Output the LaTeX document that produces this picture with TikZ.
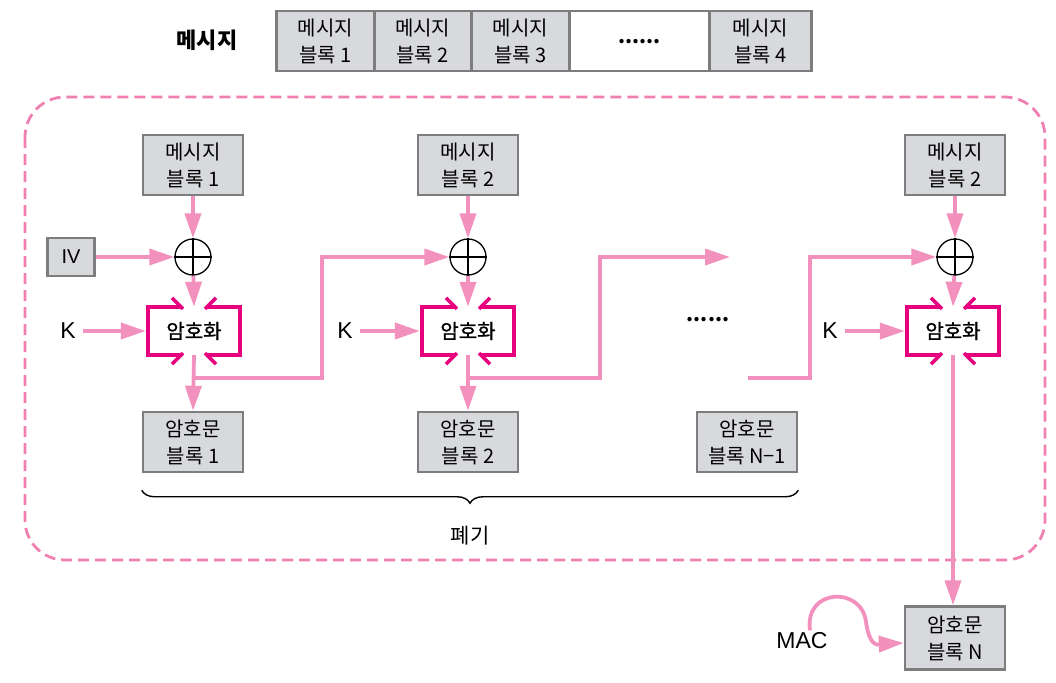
\documentclass[tikz,border=0pt]{standalone}
\usepackage{fontspec}
\setmainfont{Noto Sans CJK KR}
\newfontfamily\latinf{Liberation Sans}
\newfontfamily\krmed[FakeBold=1.3]{Noto Sans CJK KR}
\usetikzlibrary{arrows.meta,decorations.pathreplacing,calc}
\definecolor{pinkc}{RGB}{243,145,190}
\definecolor{dashc}{RGB}{240,128,178}
\definecolor{magc}{RGB}{230,0,126}
\definecolor{grayf}{RGB}{216,217,221}
\definecolor{grayd}{RGB}{125,125,125}
\tikzset{
 gbox/.style={draw=grayd, line width=2.5pt, fill=grayf, minimum width=100pt, minimum height=60pt, align=center, inner sep=0pt, font=\fontsize{20}{27}\selectfont},
 cell/.style={gbox, anchor=north west},
 pk/.style={draw=pinkc, line width=3.8pt},
 arr/.style={pk, -{Triangle[length=25pt,width=16pt]}},
 mg/.style={draw=magc, line width=3.5pt},
 xorc/.style={circle, draw=black, line width=1.3pt, minimum size=36pt, inner sep=0pt},
 lbl/.style={font=\latinf\fontsize{23}{26}\selectfont},
 enc/.style={minimum width=92pt, minimum height=48pt, inner sep=0pt, font=\krmed\fontsize{20}{22}\selectfont},
}
\newcommand{\encframe}[1]{%
 \draw[mg] ([xshift=-12pt]#1.north) -- (#1.north west) -- (#1.south west) -- ([xshift=-12pt]#1.south);
 \draw[mg] ([xshift=12pt]#1.north) -- (#1.north east) -- (#1.south east) -- ([xshift=12pt]#1.south);
 \draw[mg] ([shift={(-22pt,9pt)}]#1.north) -- ([shift={(-11pt,-2pt)}]#1.north);
 \draw[mg] ([shift={(22pt,9pt)}]#1.north) -- ([shift={(11pt,-2pt)}]#1.north);
 \draw[mg] ([shift={(-22pt,-9pt)}]#1.south) -- ([shift={(-11pt,2pt)}]#1.south);
 \draw[mg] ([shift={(22pt,-9pt)}]#1.south) -- ([shift={(11pt,2pt)}]#1.south);
}
\newcommand{\xcross}[1]{\draw[line width=1.3pt] (#1.north) -- (#1.south) (#1.west) -- (#1.east);}
\begin{document}
\begin{tikzpicture}[x=1pt,y=-1pt]
\useasboundingbox (0,0) rectangle (1056,682);
% title and top strip
\node[font=\fontsize{22}{26}\selectfont\bfseries] (title) at (207,40) {메시지};
\node[cell, minimum width=98pt] (t1) at (275,10) {메시지\\블록 1};
\node[cell, minimum width=97pt] (t2) at (373,10) {메시지\\블록 2};
\node[cell, minimum width=98pt] (t3) at (470,10) {메시지\\블록 3};
\node[cell, minimum width=140pt, fill=white] (t4) at (568,10) {\bfseries ......};
\node[cell, minimum width=102pt] (t5) at (708,10) {메시지\\블록 4};
% dashed frame
\draw[dashc, line width=2.8pt, dash pattern=on 11pt off 6pt, rounded corners=40pt] (25,97) rectangle (1045,560);
% column 1
\node[gbox] (m1) at (193,165) {메시지\\블록 1};
\node[xorc] (x1) at (193,257) {};
\xcross{x1}
\node[gbox, minimum width=47pt, minimum height=38pt, font=\latinf\fontsize{20}{24}\selectfont] (iv) at (71,257) {IV};
\node[enc] (e1) at (194,331) {암호화};
\encframe{e1}
\node[lbl] (k1) at (68,331) {K};
\node[gbox] (c1) at (193,442) {암호문\\블록 1};
\draw[arr] (m1) -- (x1);
\draw[arr] (iv) -- (x1);
\draw[arr] (x1) -- (e1.north);
\draw[arr] ([xshift=4pt]k1.east) -- ([xshift=-2pt]e1.west);
\draw[arr] (e1.south) -- (c1.north);
\coordinate (b1) at (193,378);
\coordinate (r1) at (322,378);
% column 2
\node[gbox] (m2) at (468,165) {메시지\\블록 2};
\node[xorc] (x2) at (468,257) {};
\xcross{x2}
\node[enc] (e2) at (468,331) {암호화};
\encframe{e2}
\node[lbl] (k2) at (345,331) {K};
\node[gbox] (c2) at (468,442) {암호문\\블록 2};
\draw[arr] (m2) -- (x2);
\draw[arr] (x2) -- (e2.north);
\draw[arr] ([xshift=4pt]k2.east) -- ([xshift=-2pt]e2.west);
\draw[arr] (e2.south) -- (c2.north);
\draw[arr] (b1) -- (r1) |- (x2);
\coordinate (b2) at (468,378);
\coordinate (r2) at (600,378);
\coordinate (f2) at (730,257);
\draw[arr] (b2) -- (r2) |- (f2);
\node[font=\fontsize{20}{22}\selectfont\bfseries] (dots) at (708,320) {......};
% column 3
\node[gbox] (m3) at (955,165) {메시지\\블록 2};
\node[xorc] (x3) at (955,257) {};
\xcross{x3}
\node[enc] (e3) at (953,331) {암호화};
\encframe{e3}
\node[lbl] (k3) at (830,331) {K};
\node[gbox] (cn1) at (747,442) {암호문\\블록 N−1};
\node[gbox, minimum height=63pt] (cn) at (955,638) {암호문\\블록 N};
\draw[arr] (m3) -- (x3);
\draw[arr] (x3) -- (e3.north);
\draw[arr] ([xshift=4pt]k3.east) -- ([xshift=-2pt]e3.west);
\coordinate (s3) at (748,378);
\coordinate (r3) at (810,378);
\draw[arr] (s3) -- (r3) |- (x3);
\draw[arr] (e3.south) -- (e3.south |- cn.north);
% brace
\draw[decorate, decoration={brace, mirror, amplitude=13pt}, line width=1.4pt] ([yshift=-17pt]c1.south west) -- ([yshift=-17pt]c1.south west -| cn1.south east);
\node[font=\fontsize{21}{24}\selectfont] (discard) at (470,536) {폐기};
% MAC
\node[lbl] (mac) at (802,641) {MAC};
\draw[arr] ([xshift=8pt,yshift=-1pt]mac.north) .. controls (804,588) and (862,586) .. (866,622) .. controls (870,650) and (880,644) .. ([yshift=-5pt]cn.west);
\end{tikzpicture}
\end{document}
